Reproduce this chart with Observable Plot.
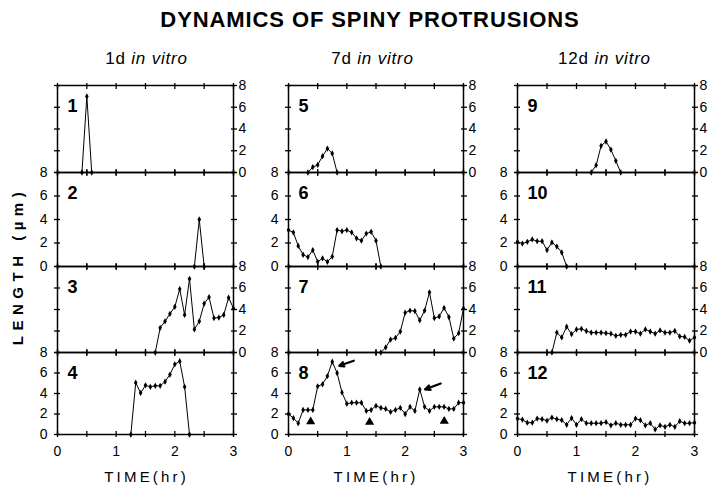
<!DOCTYPE html>
<html><head><meta charset="utf-8">
<script src="https://cdn.jsdelivr.net/npm/d3@7"></script>
<script src="https://cdn.jsdelivr.net/npm/@observablehq/plot@0.6"></script>
<style>
body{margin:0;background:#fff;}
#root{position:relative;width:720px;height:487px;overflow:hidden;background:#fff;font-family:"Liberation Sans",Arial,sans-serif;}
#root svg{position:absolute;}
</style></head><body><div id="root"></div>
<script>
// ---- data (length in µm, sampled every 5 min) ----
const panelNames = ["1","2","3","4","5","6","7","8","9","10","11","12"];
const columnTitles = ["1d", "7d", "12d"];
const startMinutes = [25, 140, 100, 75, 20, 0, 95, 0, 75, 0, 35, 0];
const len1 = [0, 7, 0];
const len2 = [0, 4, 0];
const len3 = [0, 2.3, 2.9, 3.6, 4.25, 5.9, 3.5, 6.85, 2.15, 2.9, 4.55, 5.15, 3.2, 3.25, 3.5, 5.1, 4.1];
const len4 = [0, 5.05, 4.05, 4.8, 4.65, 4.75, 4.75, 5.15, 5.85, 6.85, 7.15, 4.65, 0];
const len5 = [0, 0.5, 0.7, 1.5, 2.2, 1.75, 0];
const len6 = [3.1, 2.9, 1.75, 1.0, 0.8, 1.4, 0.4, 0.7, 0.4, 0.85, 3.1, 3.0, 3.1, 2.9, 2.4, 2.2, 2.8, 2.95, 2.2, 0];
const len7 = [0, 0.47, 1.2, 1.35, 1.95, 3.7, 3.9, 3.85, 3.0, 3.9, 5.6, 3.2, 3.35, 4.15, 3.3, 1.3, 1.8, 4.1];
const len8 = [2.0, 1.6, 1.1, 2.4, 2.4, 2.4, 4.7, 4.9, 5.7, 7.1, 6.0, 4.1, 3.0, 3.1, 3.1, 3.1, 2.3, 2.4, 2.8, 2.6, 2.5, 2.2, 2.4, 2.6, 2.0, 2.7, 2.3, 4.4, 2.7, 2.3, 2.7, 2.7, 2.7, 2.5, 2.5, 3.1, 3.1];
const len9 = [0, 0.67, 2.45, 2.85, 2.1, 1.07, 0];
const len10 = [2.1, 1.95, 2.1, 2.3, 2.15, 2.15, 1.4, 2.05, 1.7, 1.2, 0];
const len11 = [0, 1.85, 1.4, 2.4, 1.7, 2.15, 2.2, 2.0, 1.85, 1.85, 1.85, 1.8, 1.75, 1.55, 1.65, 1.65, 1.95, 1.95, 1.75, 2.15, 1.95, 1.75, 2.05, 1.85, 1.85, 2.0, 1.5, 1.45, 1.1, 1.4];
const len12 = [1.55, 1.45, 1.15, 1.15, 1.55, 1.5, 1.35, 1.65, 1.5, 1.4, 0.95, 1.6, 0.95, 1.5, 1.1, 1.1, 1.1, 1.1, 1.2, 0.9, 1.1, 0.95, 0.95, 0.95, 1.55, 1.4, 0.9, 1.1, 0.5, 0.9, 0.75, 0.95, 0.75, 1.3, 1.1, 1.1, 1.15];
const xTicks = [0, 0.5, 1, 1.5, 2, 2.5, 3];
const xTickLabels = [0, 1, 2, 3];
const yTicks = [0, 2, 4, 6, 8];
// annotations in panel 8 (hours, µm)
const arrowFromX = [1.12, 2.61], arrowFromY = [7.2, 4.97];
const arrowToX = [0.87, 2.34], arrowToY = [6.7, 4.4];
const headX = [0.38, 1.39, 2.67], headY = [1.25, 1.2, 1.3];

const allLens = [len1,len2,len3,len4,len5,len6,len7,len8,len9,len10,len11,len12];

// ---- layout ----
const colX = [[57,233],[288,463],[517,694]];
const rowY = [85,172,266,352,434];
const root = document.getElementById("root");
const font = "Liberation Sans, Arial, sans-serif";
const fmt = d => String(d);

for (let c = 0; c < 3; c++) {
  for (let r = 0; r < 4; r++) {
    const i = c*4 + r;
    const data = allLens[i].map((v, k) => ({t: (startMinutes[i] + 5*k)/60, v}));
    const [x0, x1] = colX[c];
    const y0 = rowY[r], y1 = rowY[r+1];
    const mL = 30, mR = 30, mT = 10, mB = r === 3 ? 30 : 10;
    const marks = [
      Plot.frame({strokeWidth: 1.5}),
      Plot.axisX({anchor: "bottom", ticks: xTicks, tickSize: 6, dy: -3, tickFormat: () => "", label: null, strokeWidth: 1.3}),
      Plot.axisX({anchor: "top", ticks: xTicks, tickSize: 6, dy: 3, tickFormat: () => "", label: null, strokeWidth: 1.3}),
      Plot.axisY({anchor: "left", ticks: yTicks, tickSize: 6, dx: 3, tickFormat: () => "", label: null, strokeWidth: 1.3}),
      Plot.axisY({anchor: "right", ticks: yTicks, tickSize: 6, dx: -3, tickFormat: () => "", label: null, strokeWidth: 1.3}),
      Plot.axisY({anchor: r % 2 === 0 ? "right" : "left", ticks: yTicks, tickSize: 0, tickPadding: r % 2 === 0 ? 5 : 10, tickFormat: fmt, label: null, fontSize: 14}),
      Plot.line(data, {x: "t", y: "v", strokeWidth: 1}),
      Plot.dot(data, {x: "t", y: "v", r: 1.9, symbol: "diamond", fill: "black"}),
      Plot.text([panelNames[i]], {frameAnchor: "top-left", dx: 10, dy: 14, lineAnchor: "top", textAnchor: "start", fontSize: 18, fontWeight: "bold"})
    ];
    if (r === 3) marks.push(Plot.axisX({anchor: "bottom", ticks: xTickLabels, tickSize: 0, tickPadding: 12, tickFormat: fmt, label: null, fontSize: 14}));
    if (i === 7) {
      marks.push(Plot.arrow(arrowFromX.map((d, k) => k), {x1: k => arrowFromX[k], y1: k => arrowFromY[k], x2: k => arrowToX[k], y2: k => arrowToY[k], strokeWidth: 2.2, headLength: 7, headAngle: 50}));
      marks.push(Plot.dot(headX.map((d, k) => k), {x: k => headX[k], y: k => headY[k], symbol: "triangle", r: 3.4, fill: "black"}));
    }
    const svg = Plot.plot({
      width: (x1 - x0) + mL + mR, height: (y1 - y0) + mT + mB,
      marginLeft: mL, marginRight: mR, marginTop: mT, marginBottom: mB,
      style: {background: "transparent", overflow: "visible", fontFamily: font, fontSize: "14px", color: "black"},
      x: {domain: [0, 3]}, y: {domain: [0, 8]},
      marks
    });
    svg.style.left = (x0 - mL) + "px";
    svg.style.top = (y0 - mT) + "px";
    svg.style.maxWidth = "none";
    root.appendChild(svg);
  }
}

// ---- texts ----
const ov = d3.select(root).append("svg").attr("width", 720).attr("height", 487)
  .style("left", "0px").style("top", "0px").style("overflow", "visible")
  .attr("font-family", font).attr("fill", "black");
ov.append("text").attr("x", 370).attr("y", 27).attr("text-anchor", "middle")
  .attr("font-size", 22).attr("font-weight", "bold").attr("letter-spacing", 0.9)
  .text("DYNAMICS OF SPINY PROTRUSIONS");
const headCx = [146.5, 372.5, 604.5];
columnTitles.forEach((t, k) => {
  const tx = ov.append("text").attr("x", headCx[k]).attr("y", 64).attr("text-anchor", "middle")
    .attr("font-size", 17).attr("letter-spacing", 0.8);
  tx.append("tspan").text(t + " ");
  tx.append("tspan").attr("font-style", "italic").text("in vitro");
});
const timeCx = [146.6, 376, 610];
timeCx.forEach(cx => {
  ov.append("text").attr("x", cx).attr("y", 482).attr("text-anchor", "middle")
    .attr("font-size", 15).attr("letter-spacing", 3.2).text("TIME(hr)");
});
ov.append("text").attr("transform", "translate(23,266) rotate(-90)").attr("text-anchor", "middle")
  .attr("font-size", 15).attr("font-weight", "bold").attr("letter-spacing", 5.5).text("LENGTH (µm)");
</script></body></html>
